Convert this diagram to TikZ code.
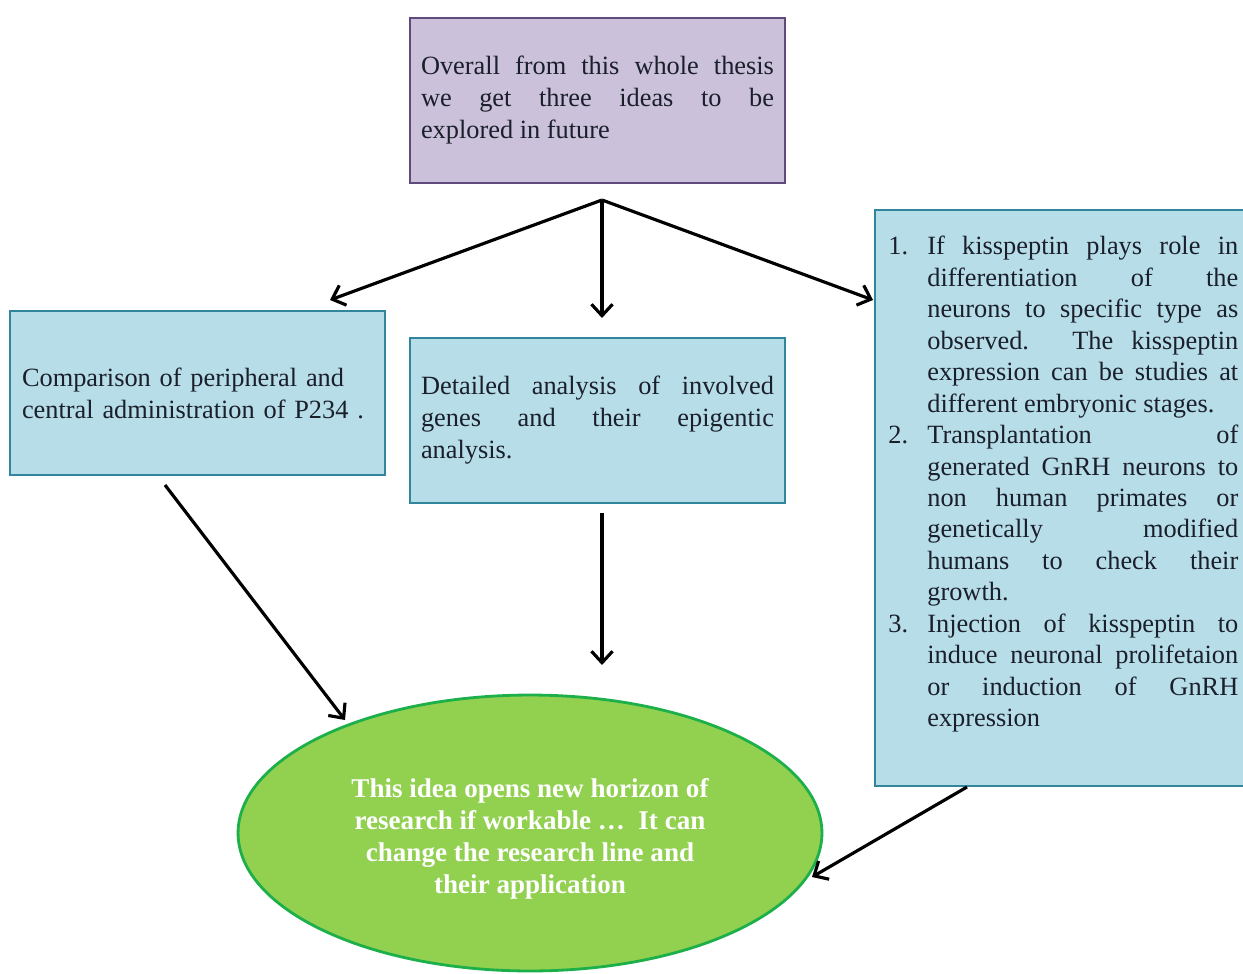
\documentclass[tikz,border=0pt]{standalone}
\usepackage{fontspec}
\setmainfont{Liberation Serif}
\usetikzlibrary{arrows.meta,shapes.geometric}
\definecolor{idea}{HTML}{CCC1DA}
\definecolor{ideaborder}{HTML}{5F4A7B}
\definecolor{task}{HTML}{B7DEE8}
\definecolor{taskborder}{HTML}{31859C}
\definecolor{goal}{HTML}{92D050}
\definecolor{goalborder}{HTML}{1DB04A}
\definecolor{bodytext}{HTML}{1A1F2B}

% numbered entry with hanging indent
\newcommand{\plainitem}[2]{\noindent\hangindent=0.78cm\hangafter=1\makebox[0.78cm][l]{#1}#2\par}

\begin{document}
\begin{tikzpicture}[
    x=0.02cm, y=-0.02cm,
    every node/.style={font=\fontsize{15}{18.2}\selectfont, text=bodytext},
    panel/.style={rectangle, draw=#1border, fill=#1, line width=1.6pt,
                  minimum width=7.5cm, minimum height=3.3cm, inner sep=0pt},
    arrow/.style={-{Straight Barb[length=6.5pt,width=12pt,line width=1.8pt]}, line width=1.8pt, color=black},
]
\useasboundingbox (0,0) rectangle (1243,973);

% Top idea box
\node[panel=idea, text width=7.06cm, align=justify] (idea) at (597.5,100.5)
  {Overall from this whole thesis\linebreak we get three ideas to be\linebreak explored in future};

% Three directions
\node[panel=task, minimum height=3.28cm, text width=7.02cm, align=left] (cmp) at (197.5,393)
  {Comparison of peripheral and\\central administration of P234 .};
\node[panel=task, text width=7.06cm, align=justify] (genes) at (597.5,420.5)
  {Detailed analysis of involved\linebreak genes and their epigentic\linebreak analysis.};
\node[panel=task, minimum width=8.3cm, minimum height=11.52cm] (future) at (1082.5,498) {};
\node[anchor=north west, inner sep=0pt, text width=7cm, align=justify,
      font=\fontsize{15}{17.9}\selectfont] (futuretext) at (888,236) {%
  \plainitem{1.}{If kisspeptin plays role in\linebreak differentiation of the\linebreak neurons to specific type as\linebreak observed. The kisspeptin\linebreak expression can be studies at\linebreak different embryonic stages.}
  \plainitem{2.}{Transplantation of\linebreak generated GnRH neurons to\linebreak non human primates or\linebreak genetically modified\linebreak humans to check their\linebreak growth.}
  \plainitem{3.}{Injection of kisspeptin to\linebreak induce neuronal prolifetaion\linebreak or induction of GnRH\linebreak expression}};

% Outcome
\node[ellipse, draw=goalborder, fill=goal, line width=1.6pt,
      minimum width=11.68cm, minimum height=5.52cm, inner sep=0pt] (goal) at (530,833) {};
\node[align=center, text=white, font=\fontsize{15.4}{18.2}\selectfont\bfseries] (goaltext) at (530,839)
  {This idea opens new horizon of\\research if workable \ldots\ \ It can\\change the research line and\\their application};

% Connector end points
\coordinate (fork) at (602,200);
\coordinate (cmp-in) at (330,300);
\coordinate (genes-in) at (602,318);
\coordinate (future-in) at (873,300);
\coordinate (cmp-out) at (165,485);
\coordinate (genes-out) at (602,513);
\coordinate (future-out) at (967,787);
\coordinate (goal-left) at (345,720);
\coordinate (goal-top) at (602,665);
\coordinate (goal-right) at (812,877);

% Arrows
\draw[arrow] (fork) -- (cmp-in);
\draw[arrow] (fork) -- (genes-in);
\draw[arrow] (fork) -- (future-in);
\draw[arrow] (cmp-out) -- (goal-left);
\draw[arrow] (genes-out) -- (goal-top);
\draw[arrow] (future-out) -- (goal-right);

\end{tikzpicture}
\end{document}
